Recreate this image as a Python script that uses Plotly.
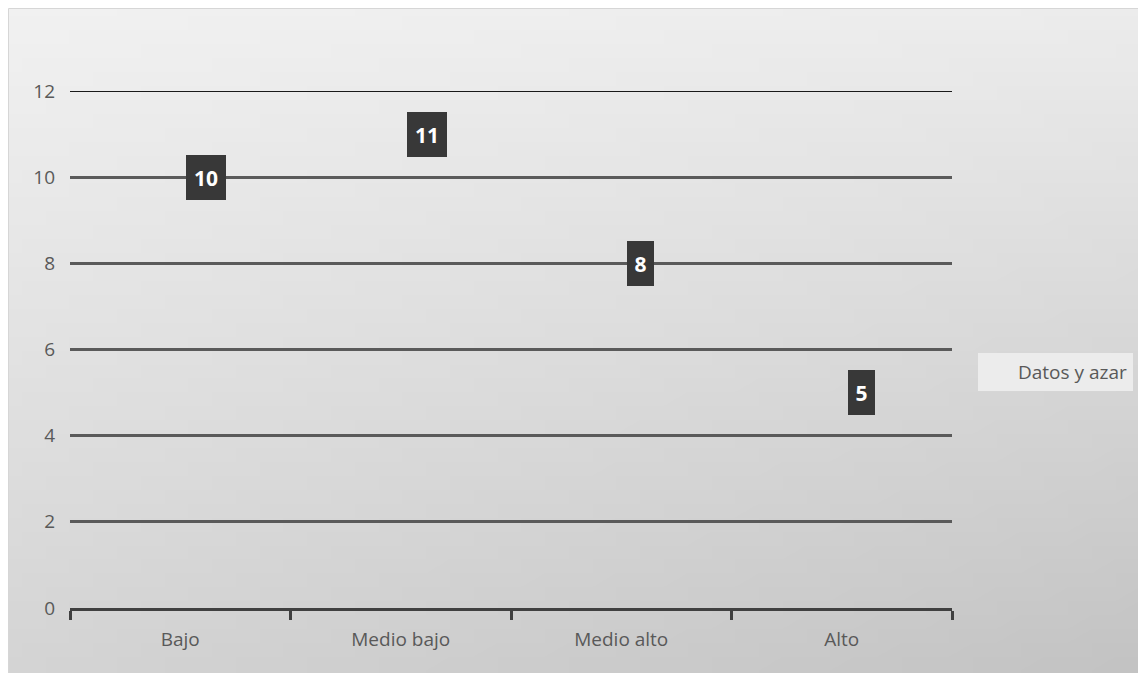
import base64, struct, zlib
import plotly.graph_objects as go

# ---- data ----
categories = ["Bajo", "Medio bajo", "Medio alto", "Alto"]
values = [10, 11, 8, 5]
series_name = "Datos y azar"
y_ticks = [0, 2, 4, 6, 8, 10, 12]

# ---- geometry: page is 1146x673, the html body adds an 8px margin ----
OFF = 8
PAGE_W, PAGE_H = 1146, 673
W, H = PAGE_W - OFF, PAGE_H - OFF
ML, MR, MT, MB = 70 - OFF, 194, 91 - OFF, 65
PW, PH = W - ML - MR, H - MT - MB


def px_to_paper_x(px):  # px in page coordinates
    return (px - OFF - ML) / PW


def px_to_paper_y(py):
    return (H - MB - (py - OFF)) / PH


# ---- gradient background as a tiny PNG ----
def gradient_png(n=48, tl=241, tr=236, bl=212, br=195):
    rows = b""
    for j in range(n):
        v = j / (n - 1)
        row = b"\x00"
        for i in range(n):
            u = i / (n - 1)
            g = (1 - u) * (1 - v) * tl + u * (1 - v) * tr + (1 - u) * v * bl + u * v * br
            row += bytes([int(round(g))])
        rows += row

    def chunk(t, d):
        c = struct.pack(">I", len(d)) + t + d
        return c + struct.pack(">I", zlib.crc32(t + d) & 0xFFFFFFFF)

    png = b"\x89PNG\r\n\x1a\n"
    png += chunk(b"IHDR", struct.pack(">IIBBBBB", n, n, 8, 0, 0, 0, 0))
    png += chunk(b"IDAT", zlib.compress(rows, 9))
    png += chunk(b"IEND", b"")
    return "data:image/png;base64," + base64.b64encode(png).decode()


FONT = "Open Sans"
TXT = "#595959"

fig = go.Figure()
fig.add_trace(go.Scatter(
    x=categories, y=values, mode="lines", name=series_name,
    line=dict(color="rgba(0,0,0,0)", width=2), showlegend=True,
    hoverinfo="skip",
))

annotations = []
for c, v in zip(categories, values):
    t = str(v)
    annotations.append(dict(
        x=c, y=v, xref="x", yref="y", text=f"<b>{t}</b>", showarrow=False,
        xanchor="left", yanchor="middle", xshift=6,
        font=dict(family=FONT, size=21, color="white"),
        bgcolor="#383838", borderpad=0, borderwidth=0,
        width=14 + 13 * len(t), height=45,
    ))

x0p, y1p = px_to_paper_x(OFF + 0.5), px_to_paper_y(OFF + 0.5)
x1p, y0p = px_to_paper_x(PAGE_W + 4), px_to_paper_y(PAGE_H + 4)

fig.update_layout(
    width=W, height=H, autosize=False,
    margin=dict(l=ML, r=MR, t=MT, b=MB, pad=0),
    paper_bgcolor="white", plot_bgcolor="rgba(0,0,0,0)",
    font=dict(family=FONT, size=19, color=TXT),
    images=[dict(
        source=gradient_png(), xref="paper", yref="paper",
        x=x0p, y=y1p, sizex=x1p - x0p, sizey=y1p - y0p,
        xanchor="left", yanchor="top", sizing="stretch", layer="below",
    )],
    shapes=[
        dict(type="rect", xref="paper", yref="paper", x0=x0p, x1=x1p, y0=y0p, y1=y1p,
             line=dict(color="#d6d6d6", width=1), fillcolor="rgba(0,0,0,0)", layer="below"),
        dict(type="line", xref="paper", yref="y", x0=0, x1=1, y0=y_ticks[-1], y1=y_ticks[-1],
             line=dict(color="#1a1a1a", width=2), layer="below"),
    ],
    annotations=annotations,
    xaxis=dict(
        type="category", showgrid=False, zeroline=False,
        showline=True, linecolor="#404040", linewidth=3,
        ticks="outside", tickson="boundaries", ticklen=9, tickwidth=3, tickcolor="#404040",
        tickfont=dict(family=FONT, size=19, color=TXT), ticklabelstandoff=12,
        range=[-0.5, len(categories) - 0.5],
    ),
    yaxis=dict(
        range=[0, 12], tickvals=y_ticks, showgrid=True, gridcolor="#5a5a5a", gridwidth=2.5,
        zeroline=False, showline=False, ticks="",
        tickfont=dict(family=FONT, size=19, color=TXT), ticklabelstandoff=14,
    ),
    legend=dict(
        x=px_to_paper_x(978), y=px_to_paper_y(372), xanchor="left", yanchor="middle",
        bgcolor="#ececec", borderwidth=0, font=dict(family=FONT, size=19, color=TXT),
        itemwidth=30,
    ),
    showlegend=True,
)

fig.write_html("out.html")
